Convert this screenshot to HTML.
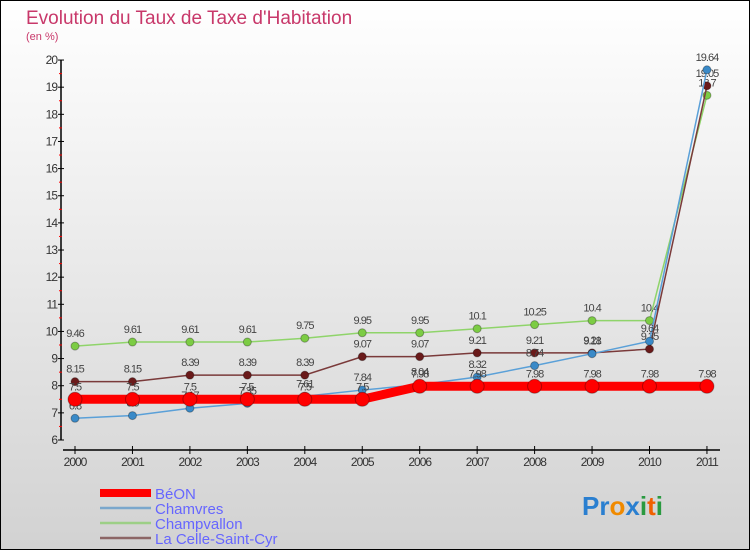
<!DOCTYPE html>
<html><head><meta charset="utf-8"><style>
body{margin:0;width:750px;height:550px;overflow:hidden;font-family:"Liberation Sans",sans-serif}
</style></head><body>
<svg id="chart" width="750" height="550" xmlns="http://www.w3.org/2000/svg">
<defs><linearGradient id="bg" x1="0" y1="0" x2="0" y2="1"><stop offset="0" stop-color="#ffffff"/><stop offset="1" stop-color="#d2d2d2"/></linearGradient></defs>
<rect x="0.5" y="0.5" width="749" height="549" fill="url(#bg)" stroke="#000"/>
<text x="26" y="24" font-size="19" fill="#c8386a">Evolution du Taux de Taxe d'Habitation</text>
<text x="26" y="40" font-size="11" fill="#c8386a">(en %)</text>
<g id="axes"></g><g id="series"></g>
<g>
<rect x="100" y="489" width="51" height="8" fill="#f00"/>
<text x="155" y="499" font-size="15" fill="#6666ff">BéON</text>
<line x1="100" y1="508" x2="151" y2="508" stroke="#7aa7cc" stroke-width="2.5"/>
<text x="155" y="514" font-size="15" fill="#6666ff">Chamvres</text>
<line x1="100" y1="523" x2="151" y2="523" stroke="#9ccf86" stroke-width="2.5"/>
<text x="155" y="529" font-size="15" fill="#6666ff">Champvallon</text>
<line x1="100" y1="538" x2="151" y2="538" stroke="#8c6666" stroke-width="2.5"/>
<text x="155" y="544" font-size="15" fill="#6666ff">La Celle-Saint-Cyr</text>
</g>
<text x="582" y="515" font-size="26" font-weight="bold"><tspan fill="#2a7fd0">Pr</tspan><tspan fill="#f08a00">o</tspan><tspan fill="#2a7fd0">x</tspan><tspan fill="#2a9a40">i</tspan><tspan fill="#f06000">t</tspan><tspan fill="#2a9a40">i</tspan></text>
</svg>
<script>
const years=[2000,2001,2002,2003,2004,2005,2006,2007,2008,2009,2010,2011];
const beon=[7.5,7.5,7.5,7.5,7.5,7.5,7.98,7.98,7.98,7.98,7.98,7.98];
const chamvres=[6.8,6.9,7.17,7.35,7.61,7.84,8.04,8.32,8.74,9.18,9.64,19.64];
const champvallon=[9.46,9.61,9.61,9.61,9.75,9.95,9.95,10.1,10.25,10.4,10.4,18.7];
const laCelle=[8.15,8.15,8.39,8.39,8.39,9.07,9.07,9.21,9.21,9.21,9.35,19.05];
const yTicks=[6,7,8,9,10,11,12,13,14,15,16,17,18,19,20];
const NS="http://www.w3.org/2000/svg";
const X=i=>75+i*57.45, Y=v=>440-(v-6)*27.14;
function mk(tag,at,parent,txt){const e=document.createElementNS(NS,tag);for(const k in at)e.setAttribute(k,at[k]);if(txt!==undefined)e.textContent=txt;parent.appendChild(e);return e;}
const ax=document.getElementById('axes'),sr=document.getElementById('series');
let a=mk('line',{x1:61,y1:Y(20),x2:61,y2:440,stroke:'#000','stroke-width':1.5},ax);

yTicks.forEach(v=>{mk('line',{x1:58,y1:Y(v),x2:64,y2:Y(v),stroke:'#000'},ax);
 if(v<20)mk('line',{x1:59,y1:Y(v+0.5),x2:62,y2:Y(v+0.5),stroke:'#f00'},ax);
 const t=mk('text',{x:57,y:Y(v)+4,'font-size':12,fill:'#333','text-anchor':'end','letter-spacing':'-1'},ax,v);
 });
a=mk('line',{x1:63,y1:450,x2:720,y2:450,stroke:'#000','stroke-width':1.5},ax);

years.forEach((y,i)=>{mk('line',{x1:X(i),y1:446,x2:X(i),y2:454,stroke:'#000'},ax);
 const t=mk('text',{x:X(i),y:466,'font-size':12,fill:'#333','text-anchor':'middle','letter-spacing':'-1'},ax,y);
 });
function series(name,vals,col,w,r,dot){
 const g=mk('g',{},sr);
 mk('polyline',{points:vals.map((v,i)=>X(i)+','+Y(v)).join(' '),fill:'none',stroke:col,'stroke-width':w},g);
 vals.forEach((v,i)=>{const c=mk('circle',{cx:X(i),cy:Y(v),r:r,fill:dot,stroke:'rgba(0,0,0,0.3)'},g);
  
  mk('text',{x:X(i),y:Y(v)-9,'font-size':11,fill:'#444','text-anchor':'middle','letter-spacing':'-1'},g,v);});
}
series('champvallon-line',champvallon,'#8fd46a',1.5,4,'#7ccc44');
series('la-celle-line',laCelle,'#7a3a3a',1.5,4,'#6a1a1a');
series('chamvres-line',chamvres,'#5aa0d8',1.5,4,'#3a8ac8');
series('beon-line',beon,'#f00',9,7,'#f00');
</script>
</body></html>
